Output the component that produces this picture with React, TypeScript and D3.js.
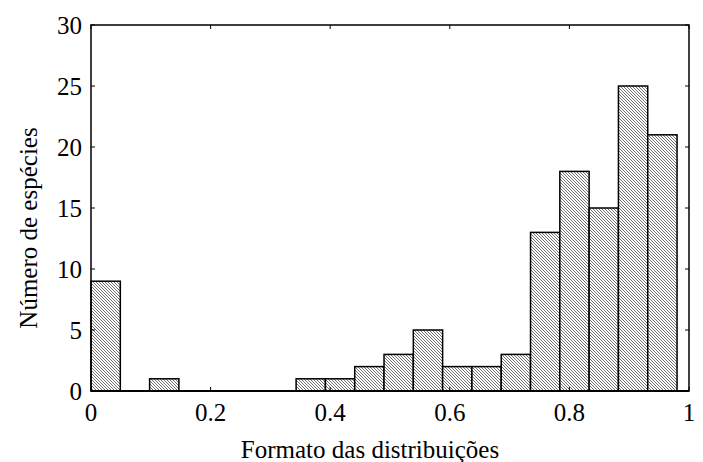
import * as d3 from "d3";

// bin lower edges (width 0.049) and counts
const binStarts = [0, 0.049, 0.098, 0.147, 0.196, 0.245, 0.294, 0.343, 0.392, 0.441, 0.49, 0.539, 0.588, 0.637, 0.686, 0.735, 0.784, 0.833, 0.882, 0.931];
const binWidth = 0.049;
const counts = [9, 0, 1, 0, 0, 0, 0, 1, 1, 2, 3, 5, 2, 2, 3, 13, 18, 15, 25, 21];
const xTicks = [0, 0.2, 0.4, 0.6, 0.8, 1];
const yTicks = [0, 5, 10, 15, 20, 25, 30];

export default function App() {
  const width = 703;
  const height = 462;
  const left = 91, right = 689, top = 25, bottom = 391;

  const x = d3.scaleLinear().domain([0, 1]).range([left, right]);
  const y = d3.scaleLinear().domain([0, 30]).range([bottom, top]);
  const fmt = (d: number) => (d === 0 || d === 1 ? String(d) : d.toFixed(1));

  return (
    <svg
      width={width}
      height={height}
      style={{ position: "absolute", left: 0, top: 0, fontFamily: "Liberation Serif, DejaVu Serif, serif" }}
    >
      <defs>
        <pattern id="hatch" width="3" height="3" patternUnits="userSpaceOnUse">
          <rect width="3" height="3" fill="#fff" />
          <path d="M-1,-1 L4,4 M-1,2 L1,4 M2,-1 L4,1" stroke="#707070" strokeWidth="1" />
        </pattern>
      </defs>
      <rect width={width} height={height} fill="#fff" />

      {counts.map((c, i) =>
        c > 0 ? (
          <rect
            key={i}
            x={x(binStarts[i])}
            y={y(c)}
            width={x(binStarts[i] + binWidth) - x(binStarts[i])}
            height={y(0) - y(c)}
            fill="url(#hatch)"
            stroke="#000"
            strokeWidth={1.5}
          />
        ) : null
      )}

      <rect x={left} y={top} width={right - left} height={bottom - top} fill="none" stroke="#000" strokeWidth={1.5} />
      {/* empty bins drawn as a heavier line along the baseline */}
      <line x1={x(0)} x2={x(1)} y1={bottom} y2={bottom} stroke="#000" strokeWidth={2} />

      {xTicks.map((t) => (
        <g key={"x" + t}>
          <line x1={x(t)} x2={x(t)} y1={bottom} y2={bottom - 4} stroke="#000" strokeWidth={1} />
          <line x1={x(t)} x2={x(t)} y1={top} y2={top + 4} stroke="#000" strokeWidth={1} />
          <text x={x(t)} y={421} textAnchor="middle" fontSize={25}>{fmt(t)}</text>
        </g>
      ))}

      {yTicks.map((t) => (
        <g key={"y" + t}>
          <line x1={left} x2={left + 4} y1={y(t)} y2={y(t)} stroke="#000" strokeWidth={1} />
          <line x1={right} x2={right - 4} y1={y(t)} y2={y(t)} stroke="#000" strokeWidth={1} />
          <text x={82} y={y(t) + 8.5} textAnchor="end" fontSize={25}>{t}</text>
        </g>
      ))}

      <text x={370} y={458} textAnchor="middle" fontSize={25}>Formato das distribuições</text>
      <text transform={`translate(37,228) rotate(-90)`} textAnchor="middle" fontSize={25}>Número de espécies</text>
    </svg>
  );
}
